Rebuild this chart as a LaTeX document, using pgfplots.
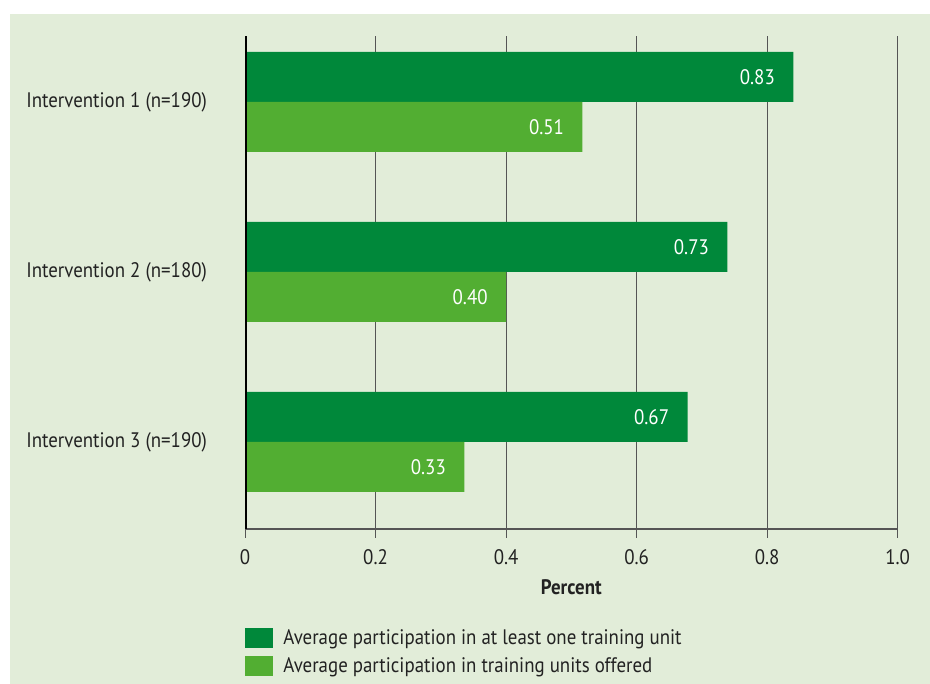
\documentclass[border=0pt]{standalone}
\usepackage{fontspec}
\setmainfont{PT Sans}[FakeStretch=0.9]
\usepackage{pgfplots}
\pgfplotsset{compat=1.18}
\definecolor{darkg}{HTML}{00883A}
\definecolor{lightg}{HTML}{52AE32}
\definecolor{bgg}{HTML}{E2EDD9}
\definecolor{txt}{HTML}{222222}
\definecolor{gridc}{HTML}{555555}
\begin{document}
\begin{tikzpicture}
\fill[white] (0pt,0pt) rectangle (465pt,342pt);
\fill[bgg] (5pt,0pt) rectangle (465pt,335pt);
\begin{axis}[
  at={(122.5pt,77.5pt)}, anchor=south west,
  scale only axis, width=326.35pt, height=246.5pt,
  xmin=0, xmax=1, ymin=0, ymax=493,
  axis x line*=bottom, axis y line*=left,
  x axis line style={gridc, line width=0.6pt, -},
  y axis line style={draw=none},
  xtick={0,0.2,0.4,0.6,0.8,1.0},
  xticklabels={0,0.2,0.4,0.6,0.8,1.0},
  tick align=outside, major tick length=4.5pt,
  xtick style={gridc, line width=0.5pt},
  xmajorgrids, grid style={gridc, line width=0.5pt},
  ytick={427,257,87},
  yticklabels={Intervention 1 (n=190),Intervention 2 (n=180),Intervention 3 (n=190)},
  ytick style={draw=none},
  yticklabel style={xshift=-11pt},
  /pgf/number format/assume math mode=true,
  tick label style={font=\fontsize{10.5}{12}\selectfont, text=txt},
  xticklabel style={yshift=-2pt},
  xlabel={\textbf{Percent}},
  xlabel style={at={(axis description cs:0.5,0)}, anchor=center, yshift=-29pt, font=\fontsize{10.5}{12}\selectfont, text=txt},
  xbar, bar width=50, bar shift=0,
  point meta=explicit symbolic,
  nodes near coords,
  nodes near coords style={anchor=east, xshift=-5.7pt, text=white, font=\fontsize{10.5}{12}\selectfont},
  legend style={at={(0,0)}, anchor=north west, yshift=-49.5pt, draw=none, fill=none, inner sep=0pt,
    row sep=4pt, nodes={inner xsep=5pt, inner ysep=0pt, text height=8pt, text depth=2pt, font=\fontsize{10.5}{12}\selectfont, text=txt}},
  legend cell align=left,
  legend image code/.code={\fill[#1] (0pt,-5pt) rectangle (14pt,5pt);},
]
\addplot[draw=none, fill=darkg] coordinates {(0.840,452) [0.83] (0.739,282) [0.73] (0.678,112) [0.67]};
\addlegendentry{Average participation in at least one training unit}
\addplot[draw=none, fill=lightg] coordinates {(0.517,402) [0.51] (0.400,232) [0.40] (0.336,62) [0.33]};
\addlegendentry{Average participation in training units offered}
\draw[black, line width=1.5pt] (axis cs:0,-18) -- (axis cs:0,493);
\end{axis}
\end{tikzpicture}
\end{document}
